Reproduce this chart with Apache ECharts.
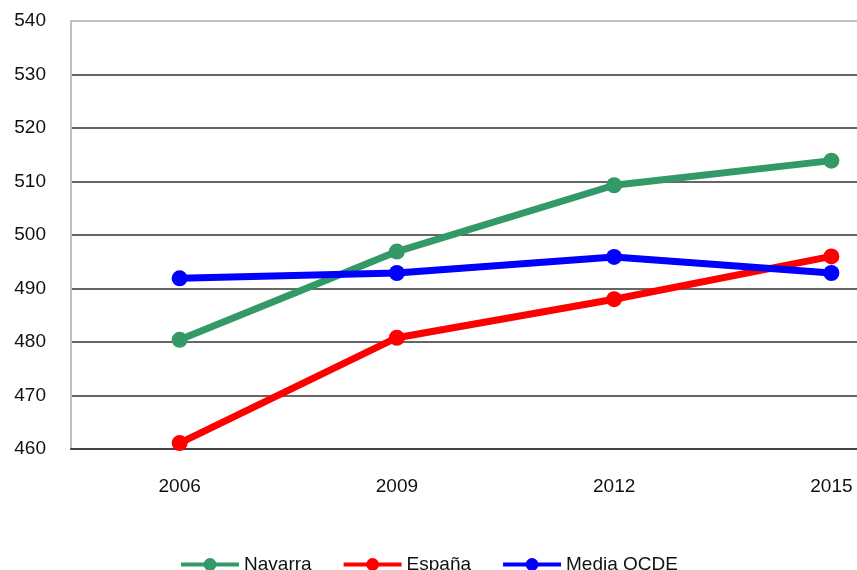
<!DOCTYPE html>
<html>
<head>
<meta charset="utf-8">
<script src="https://cdn.jsdelivr.net/npm/echarts@6/dist/echarts.min.js"></script>
<style>
  html, body { margin: 0; padding: 0; background: #fff; }
  #chart { width: 857px; height: 570px; }
</style>
</head>
<body>
<div id="chart"></div>
<script>
// años del eje x
const years = ['2006', '2009', '2012', '2015']
// puntuaciones por serie
const navarra = [480.4, 496.9, 509.3, 513.9]
const espana = [461.1, 480.8, 488, 496]
const ocde = [491.9, 492.9, 495.9, 492.9]

const chart = echarts.init(document.getElementById('chart'))

const lineSeries = (name, data, color) => ({
  name,
  type: 'line',
  data,
  symbol: 'circle',
  symbolSize: 16,
  lineStyle: { width: 7, color },
  itemStyle: { color },
  z: 3
})

const labelFont = { fontFamily: 'Liberation Sans', fontSize: 19, color: '#111' }

chart.setOption({
  animation: false,
  grid: {
    left: 71,
    top: 21,
    right: -83,
    bottom: 121,
    outerBoundsMode: 'none', // el área de trazado sigue más allá del borde derecho
    show: true,
    borderColor: '#c0c0c0',
    borderWidth: 2
  },
  legend: {
    left: 'center',
    top: 550,
    itemWidth: 58,
    itemHeight: 16,
    itemGap: 30,
    lineStyle: { width: 4 },
    textStyle: labelFont,
    data: ['Navarra', 'España', 'Media OCDE']
  },
  xAxis: {
    type: 'category',
    data: years,
    boundaryGap: true,
    axisLine: { lineStyle: { color: '#444', width: 2 } },
    axisTick: { show: false },
    axisLabel: Object.assign({ margin: 28 }, labelFont)
  },
  yAxis: {
    type: 'value',
    min: 460,
    max: 540,
    interval: 10,
    axisLine: { show: true, lineStyle: { color: '#c0c0c0', width: 2 } },
    axisTick: { show: false },
    axisLabel: Object.assign({ margin: 25 }, labelFont),
    splitLine: {
      lineStyle: {
        color: ['#444', '#333', '#333', '#333', '#333', '#333', '#333', '#333', '#c0c0c0'],
        width: 1.5
      }
    }
  },
  series: [
    lineSeries('Navarra', navarra, '#339966'),
    lineSeries('España', espana, '#ff0000'),
    lineSeries('Media OCDE', ocde, '#0000ff')
  ]
})
</script>
</body>
</html>
